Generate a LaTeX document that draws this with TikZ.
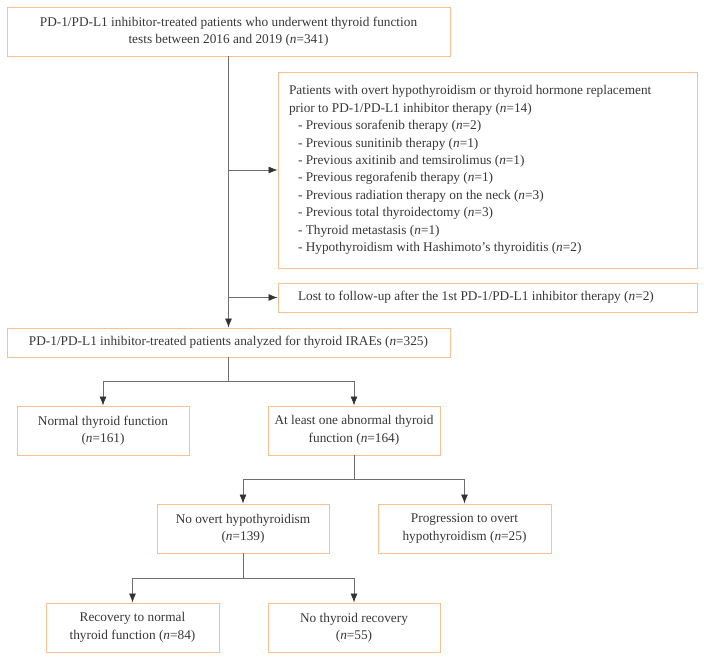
\documentclass[tikz,border=0pt]{standalone}
\usepackage{fontspec}
\setmainfont{Liberation Serif}
\usepackage{tikz}
\usetikzlibrary{positioning, arrows.meta, calc}

\definecolor{boxline}{RGB}{247,192,145}
\definecolor{txtgray}{RGB}{55,55,55}
\definecolor{linegray}{RGB}{110,110,110}

\newcommand{\nn}[1]{(\textit{n}=#1)}

\begin{document}
\begin{tikzpicture}[
    x=1pt, y=-1pt,
    every node/.style={align=center, text=txtgray, font=\fontsize{13.3}{17.4}\selectfont},
    box/.style={draw=boxline, line width=0.9pt, inner sep=0pt},
    listbox/.style={box, align=flush left, inner xsep=11pt},
    conn/.style={draw=linegray, line width=0.8pt},
    arr/.style={conn, -{Latex[length=9pt, width=7pt, color=black!80]}}
]

% frame
\useasboundingbox (0,0) rectangle (704,660);

% top row
\node[box, minimum width=443pt, minimum height=49pt] (start) at (228.5,31.5)
    {PD-1/PD-L1 inhibitor-treated patients who underwent thyroid function\\
     tests between 2016 and 2019 \nn{341}};

% excluded patients
\node[listbox, text width=397pt, minimum height=196pt] (excl) at (487.5,170)
    {Patients with overt hypothyroidism or thyroid hormone replacement\\
     prior to PD-1/PD-L1 inhibitor therapy \nn{14}\\
     \hspace*{9pt}- Previous sorafenib therapy \nn{2}\\
     \hspace*{9pt}- Previous sunitinib therapy \nn{1}\\
     \hspace*{9pt}- Previous axitinib and temsirolimus \nn{1}\\
     \hspace*{9pt}- Previous regorafenib therapy \nn{1}\\
     \hspace*{9pt}- Previous radiation therapy on the neck \nn{3}\\
     \hspace*{9pt}- Previous total thyroidectomy \nn{3}\\
     \hspace*{9pt}- Thyroid metastasis \nn{1}\\
     \hspace*{9pt}- Hypothyroidism with Hashimoto's thyroiditis \nn{2}};
\node[box, align=flush left, inner xsep=20pt, text width=379pt, minimum height=29pt] (lost) at (487.5,297.5)
    {Lost to follow-up after the 1st PD-1/PD-L1 inhibitor therapy \nn{2}};

% analysed
\node[box, minimum width=443pt, minimum height=29pt] (anal) at (228.5,342.5)
    {PD-1/PD-L1 inhibitor-treated patients analyzed for thyroid IRAEs \nn{325}};

% outcome boxes
\node[box, minimum width=172pt, minimum height=49pt] (normal) at (103,430.5)
    {Normal thyroid function\\ \nn{161}};
\node[box, minimum width=172pt, minimum height=49pt] (abnorm) at (354,430.5)
    {At least one abnormal thyroid\\ function \nn{164}};
\node[box, minimum width=172pt, minimum height=49pt] (noovert) at (243,528.5)
    {No overt hypothyroidism\\ \nn{139}};
\node[box, minimum width=173pt, minimum height=49pt] (overt) at (464.5,528.5)
    {Progression to overt\\ hypothyroidism \nn{25}};
\node[box, minimum width=173pt, minimum height=49pt] (recov) at (132.5,627.5)
    {Recovery to normal\\ thyroid function \nn{84}};
\node[box, minimum width=172pt, minimum height=49pt] (norecov) at (354,627.5)
    {No thyroid recovery\\ \nn{55}};

% split points
\coordinate (s1) at (228.5,381);
\coordinate (s2) at (354,479);
\coordinate (s3) at (243,578);

% connectors
\draw[arr] (start) -- (anal);
\draw[arr] (start |- excl) -- (excl);
\draw[arr] (start |- lost) -- (lost);

\draw[conn] (anal) -- (s1);
\draw[arr] (s1) -| (normal);
\draw[arr] (s1) -| (abnorm);

\draw[conn] (abnorm) -- (s2);
\draw[arr] (s2) -| (noovert);
\draw[arr] (s2) -| (overt);

\draw[conn] (noovert) -- (s3);
\draw[arr] (s3) -| (recov);
\draw[arr] (s3) -| (norecov);

\end{tikzpicture}
\end{document}
